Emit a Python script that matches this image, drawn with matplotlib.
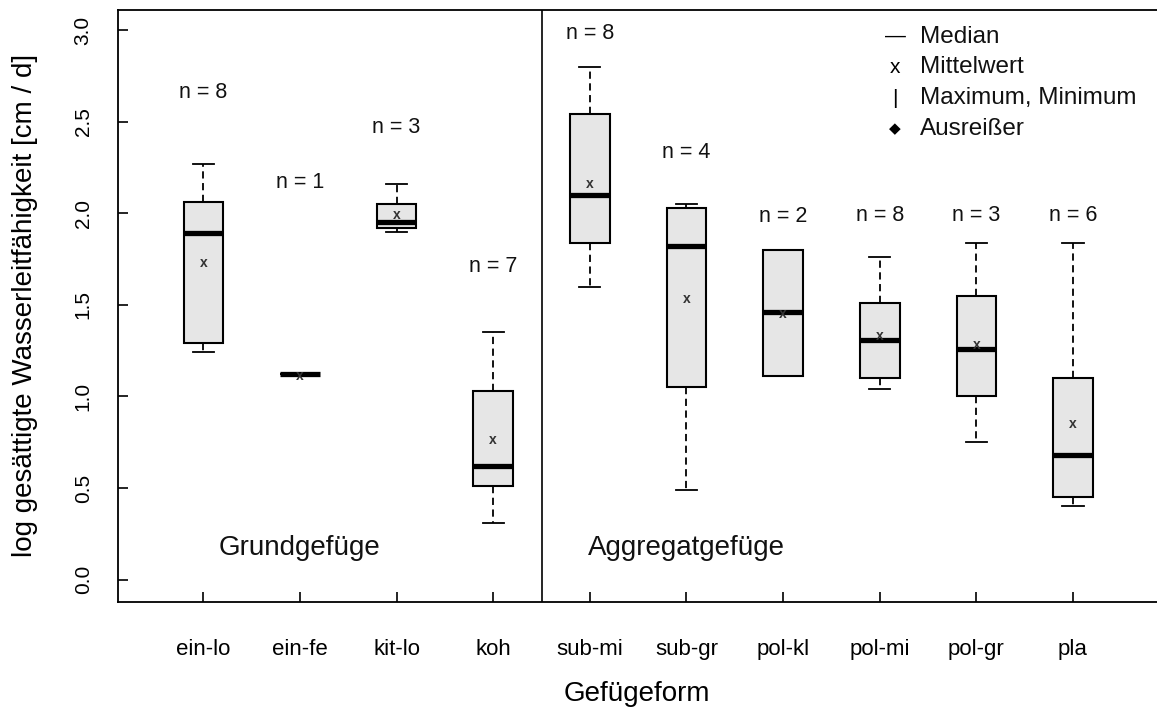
import matplotlib.pyplot as plt

plt.rcParams['font.family'] = ['Liberation Sans', 'DejaVu Sans']

# data (log10 cm/d)
categories = ['ein-lo', 'ein-fe', 'kit-lo', 'koh', 'sub-mi', 'sub-gr',
              'pol-kl', 'pol-mi', 'pol-gr', 'pla']
whis_lo = [1.24, 1.12, 1.90, 0.31, 1.60, 0.49, 1.11, 1.04, 0.75, 0.40]
q1      = [1.29, 1.12, 1.92, 0.51, 1.84, 1.05, 1.11, 1.10, 1.00, 0.45]
medians = [1.89, 1.12, 1.95, 0.62, 2.10, 1.82, 1.46, 1.31, 1.26, 0.68]
q3      = [2.06, 1.12, 2.05, 1.03, 2.54, 2.03, 1.80, 1.51, 1.55, 1.10]
whis_hi = [2.27, 1.12, 2.16, 1.35, 2.80, 2.05, 1.80, 1.76, 1.84, 1.84]
means   = [1.73, 1.11, 1.99, 0.76, 2.16, 1.53, 1.45, 1.33, 1.28, 0.85]
n_count = [8, 1, 3, 7, 8, 4, 2, 8, 3, 6]
n_label_y = [2.66, 2.17, 2.47, 1.71, 2.98, 2.33, 1.98, 1.99, 1.99, 1.99]

legend_labels = ['Median', 'Mittelwert', 'Maximum, Minimum', 'Ausreißer']
legend_symbols = ['\u2014', 'x', '|', '\u25c6']

fig = plt.figure(figsize=(11.57, 7.13), dpi=100)
ax = fig.add_axes([0.1017, 0.1561, 0.8983, 0.8299])

positions = list(range(1, len(categories) + 1))
stats = []
for i, name in enumerate(categories):
    stats.append(dict(label=name, med=medians[i], q1=q1[i], q3=q3[i],
                      whislo=whis_lo[i], whishi=whis_hi[i], fliers=[]))

ax.bxp(stats, positions=positions, widths=0.41, capwidths=0.22,
       patch_artist=True, showfliers=False,
       boxprops=dict(facecolor='#e6e6e6', edgecolor='black', linewidth=1.5),
       medianprops=dict(color='black', linewidth=3.8, solid_capstyle='butt'),
       whiskerprops=dict(color='black', linewidth=1.3, linestyle=(0, (4, 2.5))),
       capprops=dict(color='black', linewidth=1.3))

# means as small x signs
for p, m in zip(positions, means):
    ax.text(p, m, 'x', ha='center', va='center', fontsize=10,
            fontweight='bold', color='#333333')

# sample sizes
for p, n, y in zip(positions, n_count, n_label_y):
    ax.text(p, y, 'n = %d' % n, ha='center', va='center', fontsize=15.5,
            color='#111111')

# separator between the two groups
ax.axvline(4.5, color='black', linewidth=1.2)
ax.text(2.0, 0.175, 'Grundgefüge', ha='center', va='center', fontsize=20,
        color='#111111')
ax.text(6.0, 0.175, 'Aggregatgefüge', ha='center', va='center', fontsize=20,
        color='#111111')

# hand-made legend
for k, (sym, lab) in enumerate(zip(legend_symbols, legend_labels)):
    yy = 0.955 - k * 0.052
    ax.text(0.748, yy, sym, transform=ax.transAxes, ha='center', va='center',
            fontsize=15 if sym != '\u25c6' else 11)
    ax.text(0.772, yy, lab, transform=ax.transAxes, ha='left', va='center',
            fontsize=17.5, color='#111111')

ax.set_xlim(0.113, 10.87)
ax.set_ylim(-0.12, 3.109)
ax.set_xticks(positions)
ax.set_xticklabels(categories, fontsize=16)
ax.set_yticks([0.0, 0.5, 1.0, 1.5, 2.0, 2.5, 3.0])
ax.set_yticklabels(['0.0', '0.5', '1.0', '1.5', '2.0', '2.5', '3.0'],
                   fontsize=15, rotation=90, va='center')
ax.tick_params(axis='x', direction='in', length=7, width=1.2, pad=27)
ax.tick_params(axis='y', direction='in', length=7, width=1.2, pad=18)
ax.spines['right'].set_visible(False)
for s in ['left', 'bottom', 'top']:
    ax.spines[s].set_linewidth(1.3)

ax.set_xlabel('Gefügeform', fontsize=20, labelpad=15)
ax.set_ylabel('log gesättigte Wasserleitfähigkeit [cm / d]', fontsize=20)
ax.yaxis.set_label_coords(-0.077, 0.5)

fig.savefig('out.png', dpi=100)
